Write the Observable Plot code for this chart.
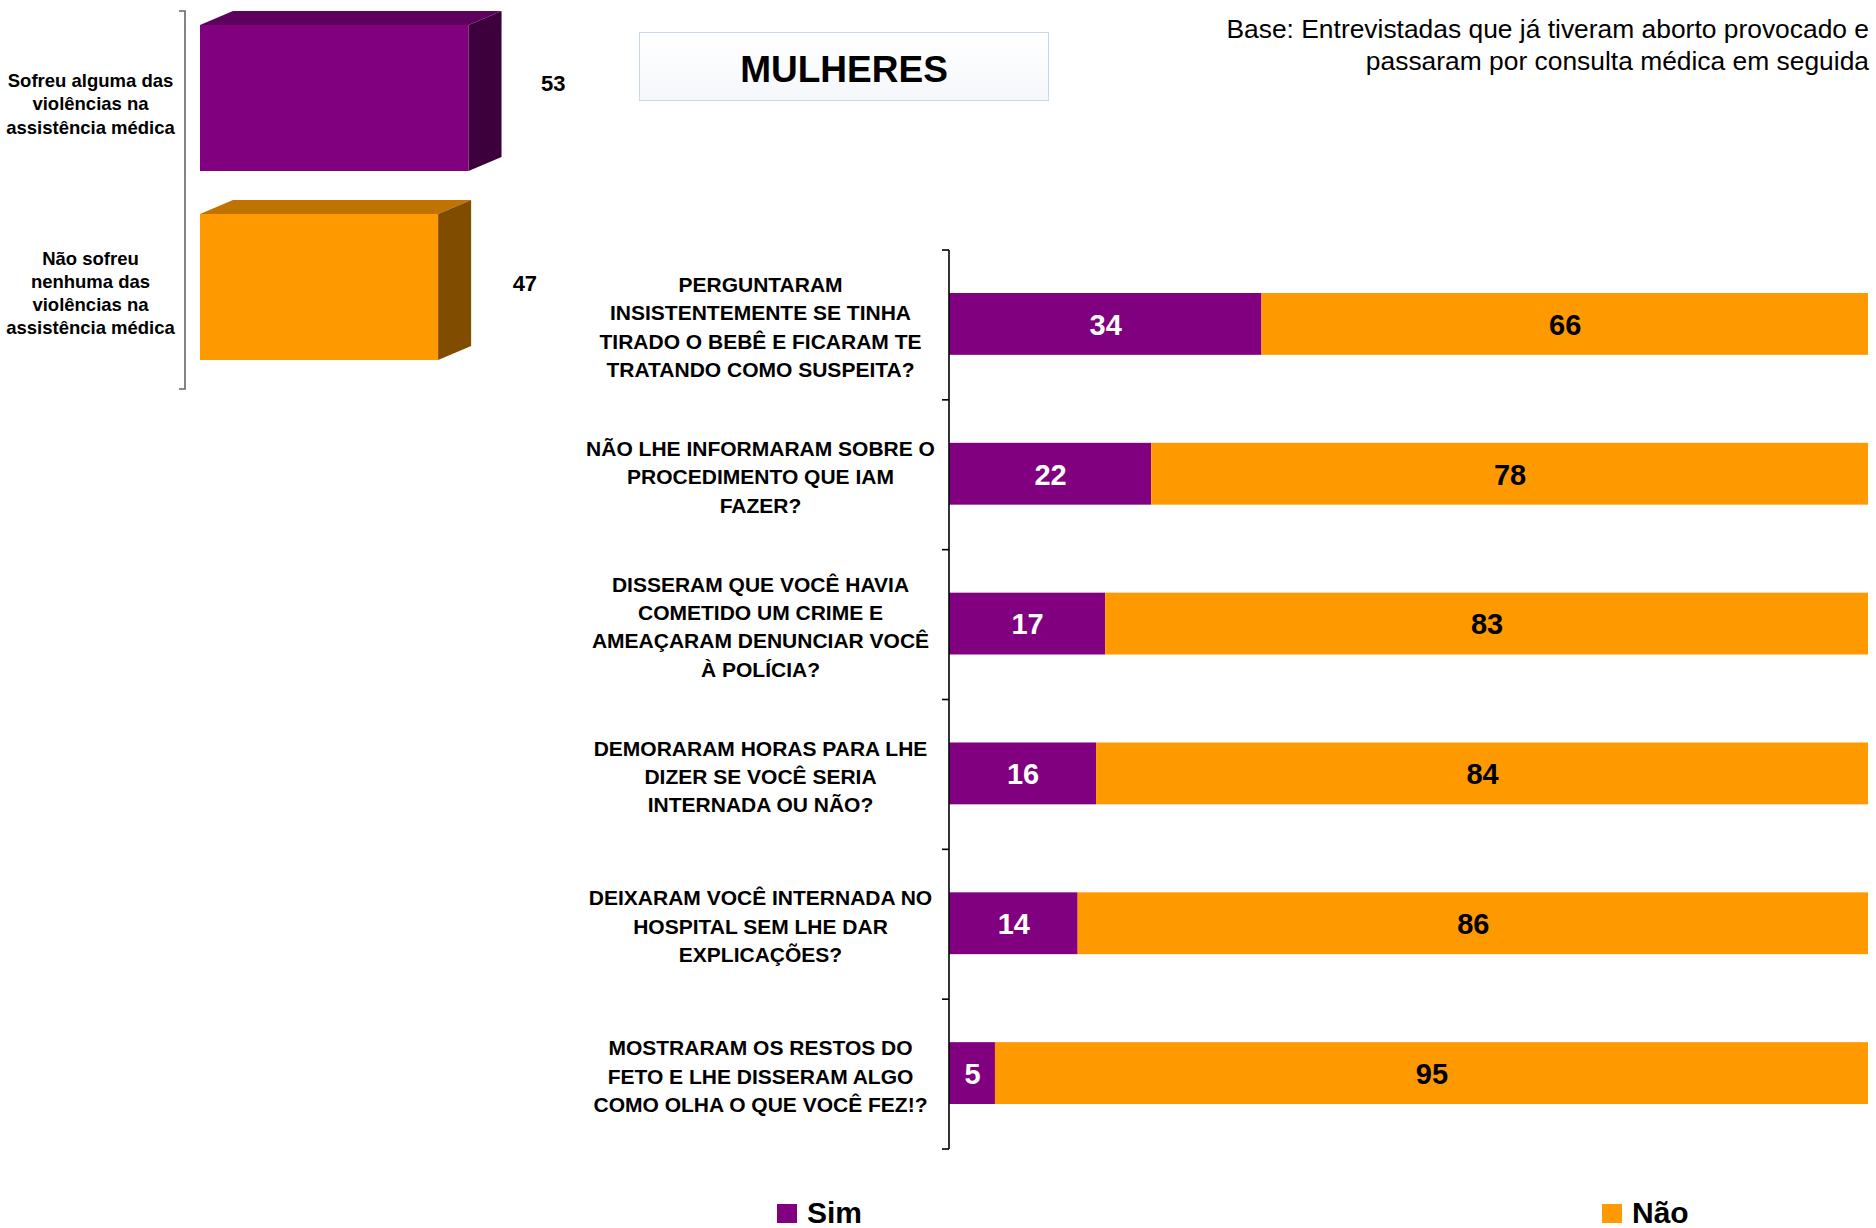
<!DOCTYPE html>
<html>
<head>
<meta charset="utf-8">
<script src="https://cdn.jsdelivr.net/npm/d3@7"></script>
<script src="https://cdn.jsdelivr.net/npm/@observablehq/plot@0.6"></script>
<style>
  html, body { margin: 0; padding: 0; background: #ffffff; }
  body { font-family: "Liberation Sans", Arial, sans-serif; }
  #page { position: relative; width: 1876px; height: 1228px; overflow: hidden; }
  #main, #left { position: absolute; left: 0; top: 0; }
  #titleBox {
    position: absolute; left: 639px; top: 32px; width: 408px; height: 67px;
    border: 1.5px solid #c9d8e6; background: linear-gradient(#ffffff, #f5f7fb);
    display: flex; align-items: center; justify-content: center; box-sizing: content-box;
    font-weight: bold; font-size: 37px; color: #000; padding-top: 0;
  }
  #titleBox span { position: relative; top: 3px; }
  #base {
    position: absolute; right: 7px; top: 13px; text-align: right;
    font-size: 26.4px; line-height: 32px; color: #000;
  }
  #legend { position: absolute; left: 0; top: 1190px; width: 1876px; height: 38px; }
  .sw { position: absolute; top: 14px; width: 20px; height: 19px; }
  .lt { position: absolute; top: 6px; font-weight: bold; font-size: 30px; line-height: 34px; color: #000; }
</style>
</head>
<body>
<div id="page">
  <div id="main"></div>
  <div id="left"></div>
  <div id="titleBox"><span>MULHERES</span></div>
  <div id="base">Base: Entrevistadas que já tiveram aborto provocado e<br>passaram por consulta médica em seguida</div>
  <div id="legend"></div>
</div>
<script>
// ---------- data ----------
const questions = [
  "PERGUNTARAM\nINSISTENTEMENTE SE TINHA\nTIRADO O BEBÊ E FICARAM TE\nTRATANDO COMO SUSPEITA?",
  "NÃO LHE INFORMARAM SOBRE O\nPROCEDIMENTO QUE IAM\nFAZER?",
  "DISSERAM QUE VOCÊ HAVIA\nCOMETIDO UM CRIME E\nAMEAÇARAM DENUNCIAR VOCÊ\nÀ POLÍCIA?",
  "DEMORARAM HORAS PARA LHE\nDIZER SE VOCÊ SERIA\nINTERNADA OU NÃO?",
  "DEIXARAM VOCÊ INTERNADA NO\nHOSPITAL SEM LHE DAR\nEXPLICAÇÕES?",
  "MOSTRARAM OS RESTOS DO\nFETO E LHE DISSERAM ALGO\nCOMO OLHA O QUE VOCÊ FEZ!?"
];
const simValues = [34, 22, 17, 16, 14, 5];
const naoValues = [66, 78, 83, 84, 86, 95];
const responses = ["Sim", "Não"];
const responseColors = ["#800080", "#FF9900"];

const groups = [
  "Sofreu alguma das\nviolências na\nassistência médica",
  "Não sofreu\nnenhuma das\nviolências na\nassistência médica"
];
const groupValues = [53, 47];
const groupFront = ["#800080", "#FF9900"];
const groupTop = ["#5e005e", "#c07300"];
const groupSide = ["#3d003d", "#804d00"];

const FONT = "Liberation Sans, Arial, sans-serif";

// ---------- main stacked bar chart ----------
const rows = [];
questions.forEach((q, i) => {
  rows.push({q, resp: responses[0], value: simValues[i]});
  rows.push({q, resp: responses[1], value: naoValues[i]});
});

const mainAxis = (index, scales, values, dims) => {
  const g = d3.create("svg:g");
  const x0 = scales.x(0);
  const top = dims.marginTop, bottom = dims.height - dims.marginBottom;
  const step = (bottom - top) / questions.length;
  g.append("line").attr("x1", x0).attr("x2", x0).attr("y1", top).attr("y2", bottom)
    .attr("stroke", "#000").attr("stroke-width", 1.6);
  for (let i = 0; i <= questions.length; i++) {
    const y = top + i * step;
    g.append("line").attr("x1", x0 - 7).attr("x2", x0).attr("y1", y).attr("y2", y)
      .attr("stroke", "#000").attr("stroke-width", 1.6);
  }
  return g.node();
};

const main = Plot.plot({
  width: 1876,
  height: 1190,
  marginLeft: 949,
  marginRight: 8,
  marginTop: 250,
  marginBottom: 41,
  style: {fontFamily: FONT, background: "transparent", overflow: "visible"},
  x: {domain: [0, 100], axis: null},
  y: {domain: questions, padding: 0, round: false, axis: null},
  color: {domain: responses, range: responseColors},
  marks: [
    Plot.barX(rows, Plot.stackX({y: "q", x: "value", fill: "resp", insetTop: 43, insetBottom: 45})),
    Plot.text(rows, Plot.stackX({y: "q", x: "value", text: d => d.resp === "Sim" ? String(d.value) : "",
      fill: "white", fontSize: 29, fontWeight: "bold"})),
    Plot.text(rows, Plot.stackX({y: "q", x: "value", text: d => d.resp === "Não" ? String(d.value) : "",
      fill: "black", fontSize: 29, fontWeight: "bold"})),
    Plot.text(questions, {y: d => d, text: d => d, frameAnchor: "left", dx: -189, textAnchor: "middle",
      fontSize: 21, fontWeight: "bold", lineHeight: 1.35, fill: "#000"}),
    mainAxis
  ]
});
document.getElementById("main").appendChild(main);

// ---------- left 3D bar chart ----------
const groupRows = groups.map((g, i) => ({g, v: groupValues[i]}));
const INSET_TOP = 14, INSET_BOTTOM = 29, DEPTH_X = 33, DEPTH_Y = 14;

const faces = (index, scales, values, dims) => {
  const g = d3.create("svg:g");
  const step = scales.y(groups[1]) - scales.y(groups[0]);
  groupRows.forEach((d, i) => {
    const x0 = scales.x(0), x1 = scales.x(d.v);
    const yT = scales.y(d.g) + INSET_TOP;
    const yB = scales.y(d.g) + step - INSET_BOTTOM;
    g.append("path")
      .attr("d", `M${x0},${yT}L${x0 + DEPTH_X},${yT - DEPTH_Y}L${x1 + DEPTH_X},${yT - DEPTH_Y}L${x1},${yT}Z`)
      .attr("fill", groupTop[i]);
    g.append("path")
      .attr("d", `M${x1},${yT}L${x1 + DEPTH_X},${yT - DEPTH_Y}L${x1 + DEPTH_X},${yB - DEPTH_Y}L${x1},${yB}Z`)
      .attr("fill", groupSide[i]);
  });
  return g.node();
};

const bracket = (index, scales, values, dims) => {
  const g = d3.create("svg:g");
  const x = dims.marginLeft - 15;
  const top = dims.marginTop, bottom = dims.height - dims.marginBottom;
  g.append("path").attr("d", `M${x - 6},${top}H${x}V${bottom}H${x - 6}`)
    .attr("fill", "none").attr("stroke", "#666").attr("stroke-width", 1.6);
  return g.node();
};

const left = Plot.plot({
  width: 600,
  height: 400,
  marginLeft: 200,
  marginRight: 96,
  marginTop: 11,
  marginBottom: 11,
  style: {fontFamily: FONT, background: "transparent", overflow: "visible"},
  x: {domain: [0, 60], axis: null},
  y: {domain: groups, padding: 0, round: false, axis: null},
  color: {domain: groups, range: groupFront},
  marks: [
    Plot.barX(groupRows, {y: "g", x: "v", fill: "g", insetTop: INSET_TOP, insetBottom: INSET_BOTTOM}),
    faces,
    bracket,
    Plot.text(groupRows.slice(0, 1), {y: "g", x: "v", text: d => String(d.v), dx: 72, dy: -22, textAnchor: "start",
      fontSize: 22, fontWeight: "bold", fill: "#000"}),
    Plot.text(groupRows.slice(1), {y: "g", x: "v", text: d => String(d.v), dx: 74, dy: -11, textAnchor: "start",
      fontSize: 22, fontWeight: "bold", fill: "#000"}),
    Plot.text(groupRows, {y: "g", text: "g", frameAnchor: "left", dx: -110, dy: -3, textAnchor: "middle",
      fontSize: 18.5, fontWeight: "bold", lineHeight: 1.26, fill: "#000"})
  ]
});
document.getElementById("left").appendChild(left);

// ---------- legend ----------
const legendPos = [{sw: 777, tx: 807}, {sw: 1602, tx: 1632}];
const legend = document.getElementById("legend");
responses.forEach((r, i) => {
  const s = document.createElement("div");
  s.className = "sw"; s.style.left = legendPos[i].sw + "px"; s.style.background = responseColors[i];
  legend.appendChild(s);
  const t = document.createElement("div");
  t.className = "lt"; t.style.left = legendPos[i].tx + "px"; t.textContent = r;
  legend.appendChild(t);
});
</script>
</body>
</html>
